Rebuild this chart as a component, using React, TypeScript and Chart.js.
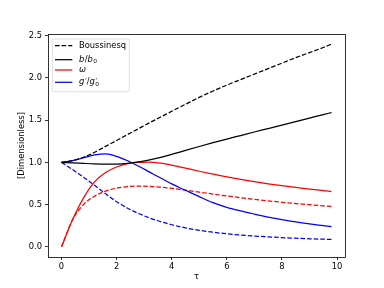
import React, { useEffect, useRef } from 'react';
import { Chart, registerables } from 'chart.js';

Chart.register(...registerables);

// ---- data ----
const tau = [0, 0.4, 0.8, 1.2, 1.6, 2.0, 2.4, 2.8, 3.2, 3.6, 4.0, 4.5, 5.0, 5.5, 6.0, 6.5, 7.0, 7.5, 8.0, 8.5, 9.0, 9.5, 9.8];
const boussinesq = [1.0, 1.02, 1.06, 1.12, 1.19, 1.26, 1.33, 1.4, 1.47, 1.537, 1.605, 1.688, 1.77, 1.845, 1.915, 1.98, 2.045, 2.11, 2.175, 2.24, 2.3, 2.36, 2.4];
const bRatio = [1.0, 0.995, 0.988, 0.982, 0.979, 0.98, 0.988, 1.005, 1.03, 1.06, 1.095, 1.142, 1.188, 1.233, 1.276, 1.318, 1.36, 1.401, 1.442, 1.483, 1.524, 1.565, 1.59];
const omega = [0, 0.32, 0.58, 0.77, 0.88, 0.945, 0.985, 1.0, 1.003, 0.99, 0.967, 0.932, 0.895, 0.86, 0.828, 0.799, 0.772, 0.747, 0.724, 0.703, 0.684, 0.666, 0.655];
const omegaBoussinesq = [0, 0.32, 0.5, 0.6, 0.66, 0.695, 0.713, 0.72, 0.716, 0.706, 0.692, 0.671, 0.648, 0.625, 0.603, 0.582, 0.563, 0.545, 0.528, 0.513, 0.499, 0.486, 0.478];
const gRatio = [1.0, 1.02, 1.055, 1.088, 1.1, 1.072, 1.02, 0.955, 0.885, 0.815, 0.745, 0.67, 0.595, 0.523, 0.467, 0.425, 0.388, 0.353, 0.322, 0.295, 0.272, 0.252, 0.24];
const gRatioBoussinesq = [1.0, 0.915, 0.825, 0.728, 0.63, 0.535, 0.458, 0.395, 0.342, 0.298, 0.262, 0.225, 0.196, 0.173, 0.155, 0.14, 0.128, 0.118, 0.109, 0.102, 0.096, 0.091, 0.088];

const xTicks = [0, 2, 4, 6, 8, 10];
const yTicks = [0, 0.5, 1.0, 1.5, 2.0, 2.5];
const xRange = [-0.49, 10.29];
const yRange = [-0.12, 2.52];
const xLabel = 'τ';
const yLabel = '[Dimensionless]';

type Part = { t: string; italic?: boolean; sub?: boolean; sup?: boolean; noAdvance?: boolean };
const legendEntries: { color: string; dashed: boolean; parts: Part[] }[] = [
  { color: '#000000', dashed: true, parts: [{ t: 'Boussinesq' }] },
  { color: '#000000', dashed: false, parts: [{ t: 'b', italic: true }, { t: '/' }, { t: 'b', italic: true }, { t: '0', sub: true }] },
  { color: '#ff0000', dashed: false, parts: [{ t: 'ω', italic: true }] },
  {
    color: '#0000ff', dashed: false, parts: [
      { t: 'g', italic: true }, { t: '′', sup: true }, { t: '/' }, { t: 'g', italic: true },
      { t: '′', sup: true, noAdvance: true }, { t: '0', sub: true },
    ],
  },
];

const FONT = '"DejaVu Sans"';
const FS = 8.33;
const DASH = [4.6, 2];
const LW = 1.25;

const pts = (ys: number[]) => tau.map((t, i) => ({ x: t, y: ys[i] }));

const framePlugin = {
  id: 'frame',
  afterDraw(chart: any) {
    const { ctx, chartArea: a } = chart;
    ctx.save();
    ctx.strokeStyle = '#000';
    ctx.lineWidth = 0.8;
    ctx.strokeRect(Math.round(a.left) + 0.5, Math.round(a.top) + 0.5, Math.round(a.right - a.left), Math.round(a.bottom - a.top));
    ctx.restore();
  },
};

const legendPlugin = {
  id: 'mplLegend',
  afterDraw(chart: any) {
    const { ctx, chartArea: a } = chart;
    const bx = a.left + 4.3;
    const by = a.top + 5;
    const bw = 77;
    const bh = 52.7;
    const rows = [6.7, 20.7, 31, 43.3];
    ctx.save();
    ctx.beginPath();
    const r = 1.7;
    ctx.moveTo(bx + r, by);
    ctx.lineTo(bx + bw - r, by);
    ctx.quadraticCurveTo(bx + bw, by, bx + bw, by + r);
    ctx.lineTo(bx + bw, by + bh - r);
    ctx.quadraticCurveTo(bx + bw, by + bh, bx + bw - r, by + bh);
    ctx.lineTo(bx + r, by + bh);
    ctx.quadraticCurveTo(bx, by + bh, bx, by + bh - r);
    ctx.lineTo(bx, by + r);
    ctx.quadraticCurveTo(bx, by, bx + r, by);
    ctx.closePath();
    ctx.fillStyle = 'rgba(255,255,255,0.8)';
    ctx.fill();
    ctx.strokeStyle = 'rgba(204,204,204,0.8)';
    ctx.lineWidth = 0.8;
    ctx.stroke();

    legendEntries.forEach((e, i) => {
      const y = by + rows[i];
      ctx.beginPath();
      ctx.setLineDash(e.dashed ? DASH : []);
      ctx.strokeStyle = e.color;
      ctx.lineWidth = LW;
      ctx.moveTo(bx + 2.7, y);
      ctx.lineTo(bx + 20, y);
      ctx.stroke();
      ctx.setLineDash([]);
      let x = bx + 26.7;
      ctx.fillStyle = '#000';
      ctx.textBaseline = 'middle';
      ctx.textAlign = 'left';
      for (const p of e.parts) {
        const size = p.sub ? FS * 0.7 : p.sup ? FS * 0.95 : FS;
        ctx.font = `${p.italic ? 'italic ' : ''}${size}px ${FONT}`;
        const dy = p.sub ? 2.2 : p.sup ? -0.3 : 0;
        ctx.fillText(p.t, x + (p.sup ? 0.3 : 0), y + dy);
        if (!p.noAdvance) x += ctx.measureText(p.t).width + (p.italic ? 0.4 : 0) + (p.sup ? 0.3 : 0);
      }
    });
    ctx.restore();
  },
};

export default function App() {
  const ref = useRef<HTMLCanvasElement>(null);
  useEffect(() => {
    if (!ref.current) return;
    Chart.defaults.font.family = FONT;
    Chart.defaults.font.size = FS;
    Chart.defaults.color = '#000';
    const line = (data: number[], color: string, dashed: boolean) => ({
      data: pts(data),
      borderColor: color,
      backgroundColor: color,
      borderWidth: LW,
      borderDash: dashed ? DASH : [],
      pointRadius: 0,
      fill: false,
      cubicInterpolationMode: 'monotone' as const,
    });
    const chart = new Chart(ref.current, {
      type: 'line',
      data: {
        datasets: [
          line(boussinesq, '#000000', true),
          line(bRatio, '#000000', false),
          line(omega, '#ff0000', false),
          line(gRatio, '#0000ff', false),
          line(omegaBoussinesq, '#ff0000', true),
          line(gRatioBoussinesq, '#0000ff', true),
        ],
      },
      options: {
        responsive: false,
        animation: false,
        devicePixelRatio: 1,
        layout: { padding: { left: 0, right: 39, top: 34, bottom: 0 } },
        plugins: { legend: { display: false }, tooltip: { enabled: false } },
        scales: {
          x: {
            type: 'linear',
            min: xRange[0],
            max: xRange[1],
            afterBuildTicks: (axis: any) => { axis.ticks = xTicks.map((v) => ({ value: v })); },
            afterFit: (axis: any) => { axis.height = 31; },
            ticks: { callback: (v: any) => String(Math.round(Number(v))), padding: 1.5, maxRotation: 0, autoSkip: false, font: { size: FS } },
            grid: { drawOnChartArea: false, tickLength: 3, color: '#000', lineWidth: 0.8 },
            border: { display: false },
            title: { display: true, text: xLabel, font: { size: FS }, padding: { top: 0, bottom: 6.5 } },
          },
          y: {
            type: 'linear',
            min: yRange[0],
            max: yRange[1],
            afterBuildTicks: (axis: any) => { axis.ticks = yTicks.map((v) => ({ value: v })); },
            afterFit: (axis: any) => { axis.width = 48; },
            ticks: { callback: (v: any) => Number(v).toFixed(1), padding: 3, autoSkip: false, font: { size: FS } },
            grid: { drawOnChartArea: false, tickLength: 3, color: '#000', lineWidth: 0.8 },
            border: { display: false },
            title: { display: true, text: yLabel, font: { size: FS }, padding: { top: 16.5, bottom: 0 } },
          },
        },
      },
      plugins: [framePlugin, legendPlugin],
    } as any);
    return () => chart.destroy();
  }, []);
  return (
    <div style={{ position: 'fixed', left: 0, top: 0, width: 384, height: 288, background: '#fff' }}>
      <canvas ref={ref} width={384} height={288} style={{ display: 'block' }} />
    </div>
  );
}
